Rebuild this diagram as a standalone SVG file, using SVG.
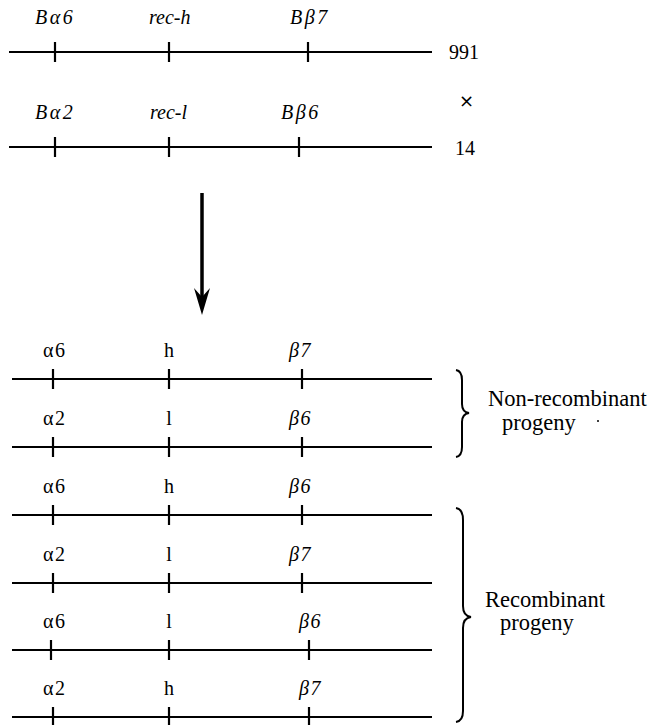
<svg xmlns="http://www.w3.org/2000/svg" width="653" height="725" viewBox="0 0 653 725">
<style>
text{font-family:"Liberation Serif","Times New Roman",serif;font-size:20px;fill:#000}
.it{font-style:italic}
.top{letter-spacing:2.5px}
.lb{letter-spacing:1.5px}
.side{font-size:22.5px}
.ln{stroke:#000;stroke-width:2;fill:none}
.tk{stroke:#000;stroke-width:2.2}
.br{stroke:#000;stroke-width:2;fill:none}
</style>
<rect width="653" height="725" fill="#fff"/>
<g id="parent1">
<line class="ln" x1="9" y1="52" x2="432" y2="52"/>
<line class="tk" x1="55" y1="42" x2="55" y2="62"/>
<line class="tk" x1="169" y1="42" x2="169" y2="62"/>
<line class="tk" x1="308" y1="42" x2="308" y2="62"/>
<text class="it top" x="35" y="24">Bα6</text>
<text class="it" x="149" y="24">rec-h</text>
<text class="it top" x="290" y="24">Bβ7</text>
<text x="449" y="59">991</text>
</g>
<text id="cross" x="459" y="107" style="font-family:'DejaVu Sans',sans-serif;font-size:18px">×</text>
<g id="parent2">
<line class="ln" x1="9" y1="147" x2="432" y2="147"/>
<line class="tk" x1="55" y1="137" x2="55" y2="157"/>
<line class="tk" x1="169" y1="137" x2="169" y2="157"/>
<line class="tk" x1="299" y1="137" x2="299" y2="157"/>
<text class="it top" x="35" y="119">Bα2</text>
<text class="it" x="150" y="119">rec-l</text>
<text class="it top" x="281" y="119">Bβ6</text>
<text x="455" y="155">14</text>
</g>
<g id="connectors">
<line x1="202" y1="193" x2="202" y2="298" stroke="#000" stroke-width="3.5"/>
<polygon points="202,315 194,288 202,297 210,288" fill="#000"/>
</g>
<g id="row1">
<line class="ln" x1="12" y1="379" x2="432" y2="379"/>
<line class="tk" x1="53" y1="369" x2="53" y2="389"/>
<line class="tk" x1="169" y1="369" x2="169" y2="389"/>
<line class="tk" x1="302" y1="369" x2="302" y2="389"/>
<text class="lb" x="43" y="357">α6</text>
<text x="169" y="357" text-anchor="middle">h</text>
<text x="289" y="357" class="it lb">β7</text>
</g>
<g id="row2">
<line class="ln" x1="12" y1="447" x2="432" y2="447"/>
<line class="tk" x1="53" y1="437" x2="53" y2="457"/>
<line class="tk" x1="169" y1="437" x2="169" y2="457"/>
<line class="tk" x1="302" y1="437" x2="302" y2="457"/>
<text class="lb" x="43" y="425">α2</text>
<text x="169" y="425" text-anchor="middle">l</text>
<text x="289" y="425" class="it lb">β6</text>
</g>
<g id="row3">
<line class="ln" x1="12" y1="515" x2="432" y2="515"/>
<line class="tk" x1="53" y1="505" x2="53" y2="525"/>
<line class="tk" x1="169" y1="505" x2="169" y2="525"/>
<line class="tk" x1="302" y1="505" x2="302" y2="525"/>
<text class="lb" x="43" y="493">α6</text>
<text x="169" y="493" text-anchor="middle">h</text>
<text x="289" y="493" class="it lb">β6</text>
</g>
<g id="row4">
<line class="ln" x1="12" y1="583" x2="432" y2="583"/>
<line class="tk" x1="53" y1="573" x2="53" y2="593"/>
<line class="tk" x1="169" y1="573" x2="169" y2="593"/>
<line class="tk" x1="302" y1="573" x2="302" y2="593"/>
<text class="lb" x="43" y="561">α2</text>
<text x="169" y="561" text-anchor="middle">l</text>
<text x="289" y="561" class="it lb">β7</text>
</g>
<g id="row5">
<line class="ln" x1="12" y1="650" x2="432" y2="650"/>
<line class="tk" x1="51" y1="640" x2="51" y2="660"/>
<line class="tk" x1="169" y1="640" x2="169" y2="660"/>
<line class="tk" x1="309" y1="640" x2="309" y2="660"/>
<text class="lb" x="43" y="628">α6</text>
<text x="169" y="628" text-anchor="middle">l</text>
<text x="299" y="628" class="it lb">β6</text>
</g>
<g id="row6">
<line class="ln" x1="12" y1="717" x2="432" y2="717"/>
<line class="tk" x1="53" y1="707" x2="53" y2="727"/>
<line class="tk" x1="169" y1="707" x2="169" y2="727"/>
<line class="tk" x1="309" y1="707" x2="309" y2="727"/>
<text class="lb" x="43" y="695">α2</text>
<text x="169" y="695" text-anchor="middle">h</text>
<text x="299" y="695" class="it lb">β7</text>
</g>
<g id="brace-nonrecombinant">
<path class="br" d="M456,370 Q462,371 462,380 L462,404 Q462,412 469,413 Q462,414 462,422 L462,447 Q462,456 456,457"/>
<text class="side" x="488" y="406">Non-recombinant</text>
<text class="side" x="502" y="430">progeny</text>
<circle cx="598" cy="421" r="1" fill="#000"/>
</g>
<g id="brace-recombinant">
<path class="br" d="M456,508 Q463,509 463,520 L463,606 Q463,616 471,617 Q463,618 463,628 L463,711 Q463,721 456,722"/>
<text class="side" x="485" y="607">Recombinant</text>
<text class="side" x="500" y="630">progeny</text>
</g>
</svg>
